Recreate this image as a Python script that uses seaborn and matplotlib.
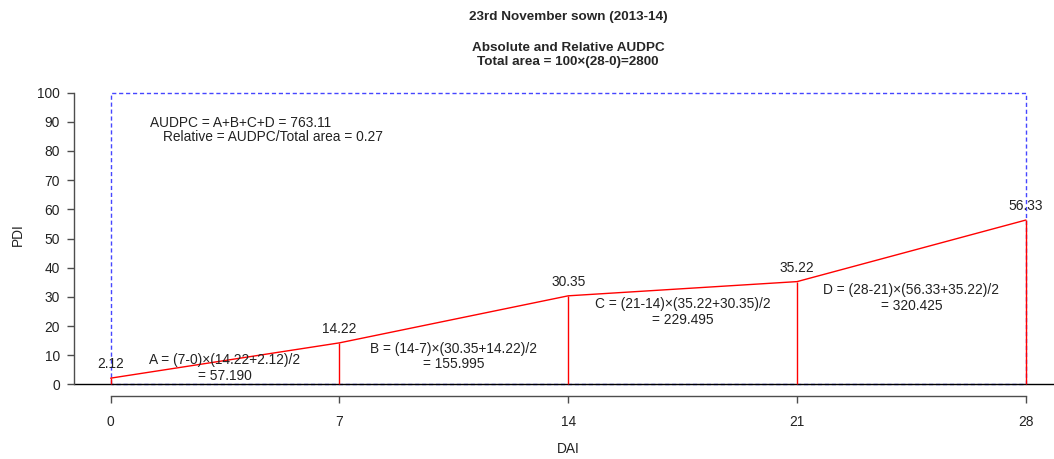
import matplotlib
matplotlib.use("Agg")
import matplotlib.pyplot as plt
import seaborn as sns
import pandas as pd

# data
dai = [0, 7, 14, 21, 28]
pdi = [2.12, 14.22, 30.35, 35.22, 56.33]
area_labels = [
    "A = (7-0)\u00d7(14.22+2.12)/2\n= 57.190",
    "B = (14-7)\u00d7(30.35+14.22)/2\n= 155.995",
    "C = (21-14)\u00d7(35.22+30.35)/2\n= 229.495",
    "D = (28-21)\u00d7(56.33+35.22)/2\n= 320.425",
]
area_label_y = [5.5, 9.5, 24.7, 29.6]
y_ticks = list(range(0, 101, 10))

sns.set_style("white")
plt.rcParams["font.family"] = ["Liberation Sans", "DejaVu Sans"]
fs = 9.9
axis_col = "#4d4d4d"
txt_col = "#222222"

df = pd.DataFrame({"DAI": dai, "PDI": pdi})

fig = plt.figure(figsize=(10.54, 4.59), dpi=100)
ax = fig.add_axes([74 / 1054, 63 / 459, 980 / 1054, 315 / 459])

# total area rectangle
ax.plot([0, 0, 28, 28, 0], [0, 100, 100, 0, 0], color="#4646ff", lw=1,
        dashes=(3, 2), zorder=1)
ax.axhline(0, color="black", lw=1, zorder=2)

# disease progress curve
sns.lineplot(data=df, x="DAI", y="PDI", color="red", lw=1, ax=ax, zorder=3)
ax.vlines(df["DAI"], 0, df["PDI"], color="red", lw=1, zorder=3)

for x, y in zip(dai, pdi):
    ax.annotate(f"{y:.2f}", (x, y), xytext=(0, 10), textcoords="offset points",
                ha="center", va="center", fontsize=fs, color=txt_col, zorder=4)

for i, lab in enumerate(area_labels):
    xm = (dai[i] + dai[i + 1]) / 2
    ax.text(xm, area_label_y[i], lab, ha="center", va="center", fontsize=fs,
            linespacing=1.15, color=txt_col)

ax.text(1.19, 89.7, "AUDPC = A+B+C+D = 763.11", ha="left", va="center",
        fontsize=fs, color=txt_col)
ax.text(1.59, 84.9, "Relative = AUDPC/Total area = 0.27", ha="left", va="center",
        fontsize=fs, color=txt_col)

ax.set_xlim(-1.12, (1054 - 110) / 32.71)
ax.set_ylim(-4, 104)

for s in ["top", "right"]:
    ax.spines[s].set_visible(False)
ax.spines["left"].set_bounds(0, 100)
ax.spines["bottom"].set_bounds(0, 28)
for s in ["left", "bottom"]:
    ax.spines[s].set_color(axis_col)
    ax.spines[s].set_linewidth(1)

ax.set_xticks(dai)
ax.set_xticklabels([str(d) for d in dai])
ax.set_yticks(y_ticks)
ax.set_yticklabels([str(t) for t in y_ticks])
ax.tick_params(axis="both", direction="out", length=5, width=1, color=axis_col,
               labelsize=fs, labelcolor=txt_col, pad=5, left=True, bottom=True)
ax.tick_params(axis="x", pad=9)

ax.set_xlabel("")
ax.set_ylabel("")
fig.text(18 / 1054, 1 - 235 / 459, "PDI", rotation=90, ha="center", va="center",
         fontsize=fs, color=txt_col)
fig.text(568 / 1054, 1 - 449 / 459, "DAI", ha="center", va="center",
         fontsize=fs, color=txt_col)

fig.text(568 / 1054, 1 - 17 / 459, "23rd November sown (2013-14)", ha="center",
         va="center", fontsize=9.7, fontweight="bold")
fig.text(568 / 1054, 1 - 55 / 459,
         "Absolute and Relative AUDPC\nTotal area = 100\u00d7(28-0)=2800",
         ha="center", va="center", fontsize=9.7, fontweight="bold", linespacing=1.15)

fig.savefig("out.png", dpi=100)
